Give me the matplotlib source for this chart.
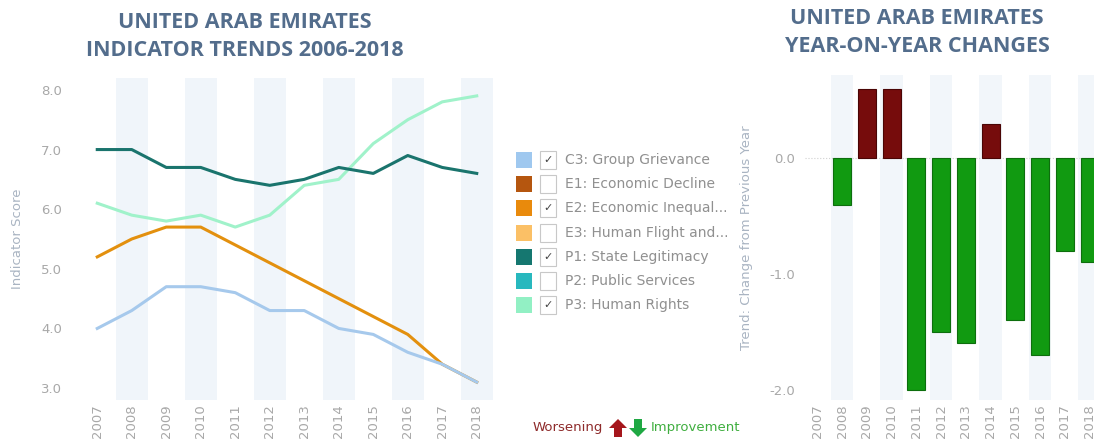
import numpy as np
import matplotlib.pyplot as plt
from matplotlib.patches import Rectangle, Polygon

# data
years = [2007, 2008, 2009, 2010, 2011, 2012, 2013, 2014, 2015, 2016, 2017, 2018]
c3_group_grievance = [4.0, 4.3, 4.7, 4.7, 4.6, 4.3, 4.3, 4.0, 3.9, 3.6, 3.4, 3.1]
e2_economic_inequality = [5.2, 5.5, 5.7, 5.7, 5.4, 5.1, 4.8, 4.5, 4.2, 3.9, 3.4, 3.1]
p1_state_legitimacy = [7.0, 7.0, 6.7, 6.7, 6.5, 6.4, 6.5, 6.7, 6.6, 6.9, 6.7, 6.6]
p3_human_rights = [6.1, 5.9, 5.8, 5.9, 5.7, 5.9, 6.4, 6.5, 7.1, 7.5, 7.8, 7.9]
yoy_change = [None, -0.4, 0.6, 0.6, -2.0, -1.5, -1.6, 0.3, -1.4, -1.7, -0.8, -0.9]

legend_names = ["C3: Group Grievance", "E1: Economic Decline", "E2: Economic Inequal...",
                "E3: Human Flight and...", "P1: State Legitimacy", "P2: Public Services",
                "P3: Human Rights"]
legend_colors = ["#9fc8ef", "#b5560f", "#e98a0c", "#fbc066", "#157770", "#28b8be", "#92f0c4"]
legend_checked = [True, False, True, False, True, False, True]

plt.rcParams['font.family'] = ['DejaVu Sans']

W, H = 1094, 446
fig = plt.figure(figsize=(W / 100, H / 100), dpi=100)

def px(x, y):
    # pixel position -> figure fraction
    return x / W, 1 - y / H

title_col = "#536d8c"
title_font = ['Open Sans', 'DejaVu Sans']
tick_col = "#a8a8a8"
band_col = "#f0f5fa"
x = np.arange(len(years))

# ---- left: indicator trends
ax1 = fig.add_axes([80 / W, 1 - 400 / H, 414 / W, 322 / H])
for i in range(1, len(years), 2):
    ax1.axvspan(i - 0.47, i + 0.47, color=band_col, lw=0, zorder=0)
ax1.plot(x, e2_economic_inequality, color="#e3900e", lw=2.2, zorder=3)
ax1.plot(x, c3_group_grievance, color="#a6c9ec", lw=2.2, zorder=4)
ax1.plot(x, p3_human_rights, color="#a0f2ca", lw=2.2, zorder=3)
ax1.plot(x, p1_state_legitimacy, color="#1a746d", lw=2.2, zorder=3)
ax1.set_xlim(-0.5, len(years) - 0.5)
ax1.set_ylim(2.8, 8.2)
ax1.set_yticks([3, 4, 5, 6, 7, 8])
ax1.set_yticklabels(["3.0", "4.0", "5.0", "6.0", "7.0", "8.0"])
ax1.set_xticks(x)
ax1.set_xticklabels([str(y) for y in years], rotation=90)
ax1.set_ylabel("Indicator Score", color="#a9b4c2", fontsize=9.5, labelpad=12)
ax1.tick_params(axis="y", length=0, colors=tick_col, labelsize=9.5, pad=13)
ax1.tick_params(axis="x", length=0, colors=tick_col, labelsize=9.5, pad=3)
for s in ax1.spines.values():
    s.set_visible(False)
fig.text(*px(245, 22), "UNITED ARAB EMIRATES", ha="center", va="center",
         fontsize=15.5, fontweight="bold", color=title_col, family=title_font)
fig.text(*px(245, 51), "INDICATOR TRENDS 2006-2018", ha="center", va="center",
         fontsize=15.5, fontweight="bold", color=title_col, family=title_font)

# ---- legend with check boxes
for k, (name, col, chk) in enumerate(zip(legend_names, legend_colors, legend_checked)):
    yc = 160 + k * 24.2
    x0, y0 = px(516, yc + 8)
    fig.add_artist(Rectangle((x0, y0), 16 / W, 16 / H, transform=fig.transFigure,
                             facecolor=col, edgecolor="none"))
    bx, by = px(540, yc + 9)
    fig.add_artist(Rectangle((bx, by), 16 / W, 18 / H, transform=fig.transFigure,
                             facecolor="white", edgecolor="#c8c8c8", lw=0.8))
    if chk:
        fig.text(*px(548, yc), "\u2713", ha="center", va="center", fontsize=8,
                 color="#444444")
    fig.text(*px(565, yc), name, ha="left", va="center", fontsize=10, color="#909090")

# ---- bottom legend
fig.text(*px(603, 428), "Worsening", ha="right", va="center", fontsize=9.5, color="#8e2b2b")
fig.text(*px(651, 428), "Improvement", ha="left", va="center", fontsize=9.5, color="#3fae3f")
up = [(609, 428), (618, 419), (627, 428), (622, 428), (622, 437), (614, 437), (614, 428)]
dn = [(629, 428), (638, 437), (647, 428), (642, 428), (642, 419), (634, 419), (634, 428)]
fig.add_artist(Polygon([px(a, b) for a, b in up], closed=True, transform=fig.transFigure,
                       facecolor="#a5161c", edgecolor="none"))
fig.add_artist(Polygon([px(a, b) for a, b in dn], closed=True, transform=fig.transFigure,
                       facecolor="#1fa843", edgecolor="none"))

# ---- right: year on year changes
ax2 = fig.add_axes([805 / W, 1 - 400 / H, 297 / W, 325 / H])
for i in range(1, len(years), 2):
    ax2.axvspan(i - 0.45, i + 0.45, color="#f2f6fa", lw=0, zorder=0)
ax2.axhline(0, color="#d0d0d0", lw=0.8, ls=":", zorder=1)
for i, v in enumerate(yoy_change):
    if v is None:
        continue
    if v > 0:
        ax2.bar(i, v, width=0.72, color="#760c0c", edgecolor="#4a0505", lw=0.8, zorder=2)
    else:
        ax2.bar(i, v, width=0.72, color="#119a11", edgecolor="#0d6e0d", lw=0.8, zorder=2)
ax2.set_xlim(-0.5, len(years) - 0.5)
ax2.set_ylim(-2.09, 0.72)
ax2.set_yticks([-2, -1, 0])
ax2.set_yticklabels(["-2.0", "-1.0", "0.0"])
ax2.set_xticks(x)
ax2.set_xticklabels([str(y) for y in years], rotation=90)
ax2.set_ylabel("Trend: Change from Previous Year", color="#a9b4c2", fontsize=9.5, labelpad=12)
ax2.tick_params(axis="y", length=0, colors=tick_col, labelsize=9.5, pad=7)
ax2.tick_params(axis="x", length=0, colors=tick_col, labelsize=9.5, pad=3)
for s in ax2.spines.values():
    s.set_visible(False)
fig.text(*px(917, 18), "UNITED ARAB EMIRATES", ha="center", va="center",
         fontsize=15.5, fontweight="bold", color=title_col, family=title_font)
fig.text(*px(917, 47), "YEAR-ON-YEAR CHANGES", ha="center", va="center",
         fontsize=15.5, fontweight="bold", color=title_col, family=title_font)

fig.savefig("out.png", dpi=100)
